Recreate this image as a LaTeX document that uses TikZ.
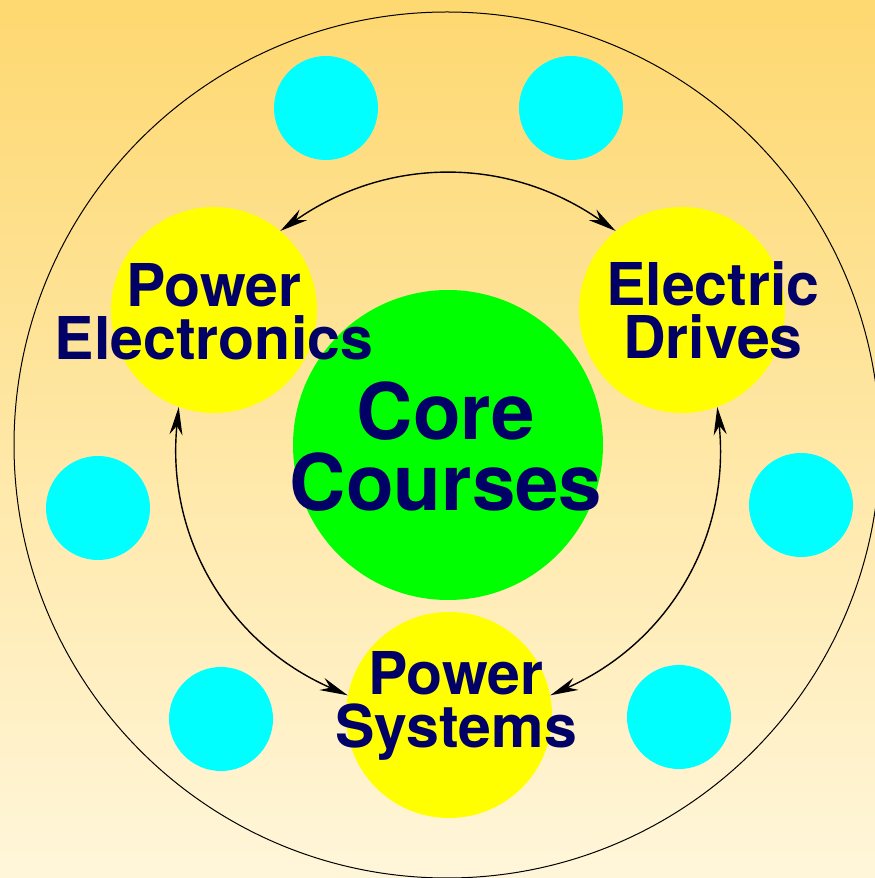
\documentclass[tikz,border=0pt]{standalone}
\usepackage{fontspec}
\setmainfont{TeX Gyre Heros}
\usetikzlibrary{arrows.meta}
\definecolor{navytext}{RGB}{0,0,102}
\definecolor{bgtop}{RGB}{254,216,112}
\definecolor{bgbottom}{RGB}{255,246,218}
\definecolor{coregreen}{RGB}{0,255,0}
\definecolor{topicyellow}{RGB}{255,255,0}
\definecolor{dotcyan}{RGB}{0,255,255}
\begin{document}
\begin{tikzpicture}[x=1pt, y=1pt,
  corecircle/.style={circle, fill=coregreen, minimum size=310pt, inner sep=0pt},
  topic/.style={circle, fill=topicyellow, minimum size=206pt, inner sep=0pt},
  dot/.style={circle, fill=dotcyan, minimum size=104pt, inner sep=0pt},
  bigtext/.style={align=center, text=navytext, inner sep=0pt, font=\bfseries\fontsize{78}{71}\selectfont},
  topictext/.style={align=center, text=navytext, inner sep=0pt, font=\bfseries\fontsize{59}{53}\selectfont},
  arrow/.style={{Stealth[length=28pt,width=13pt,inset=9pt]}-{Stealth[length=28pt,width=13pt,inset=9pt]}, line width=1.4pt}
]
\useasboundingbox (0,0) rectangle (875,878);
\shade[top color=bgtop, bottom color=bgbottom] (0,0) rectangle (875,878);
\draw[line width=1pt] (447,433) circle (433);

\node[dot] (dot1) at (326,770) {};
\node[dot] (dot2) at (571,770) {};
\node[dot] (dot3) at (98,370) {};
\node[dot] (dot4) at (801,373) {};
\node[dot] (dot5) at (221,159) {};
\node[dot] (dot6) at (679,161) {};

\node[corecircle] (core) at (448,433) {};
\node[topic] (pe) at (214,568) {};
\node[topic] (ed) at (682,568) {};
\node[topic] (ps) at (449,163) {};

\node[bigtext] at ([xshift=-2pt,yshift=-2pt]core.center) {Core\\Courses};
\node[topictext] at ([yshift=-2pt]pe.center) {Power\\Electronics};
\node[topictext] at ([xshift=31pt]ed.center) {Electric\\Drives};
\node[topictext] at ([xshift=7pt,yshift=9pt]ps.center) {Power\\Systems};

\draw[arrow] (pe.50) to[bend left=35] (ed.130);
\draw[arrow] (pe.250) to[bend right=36] (ps.169);
\draw[arrow] (ed.290) to[bend left=36] (ps.11);
\end{tikzpicture}
\end{document}
